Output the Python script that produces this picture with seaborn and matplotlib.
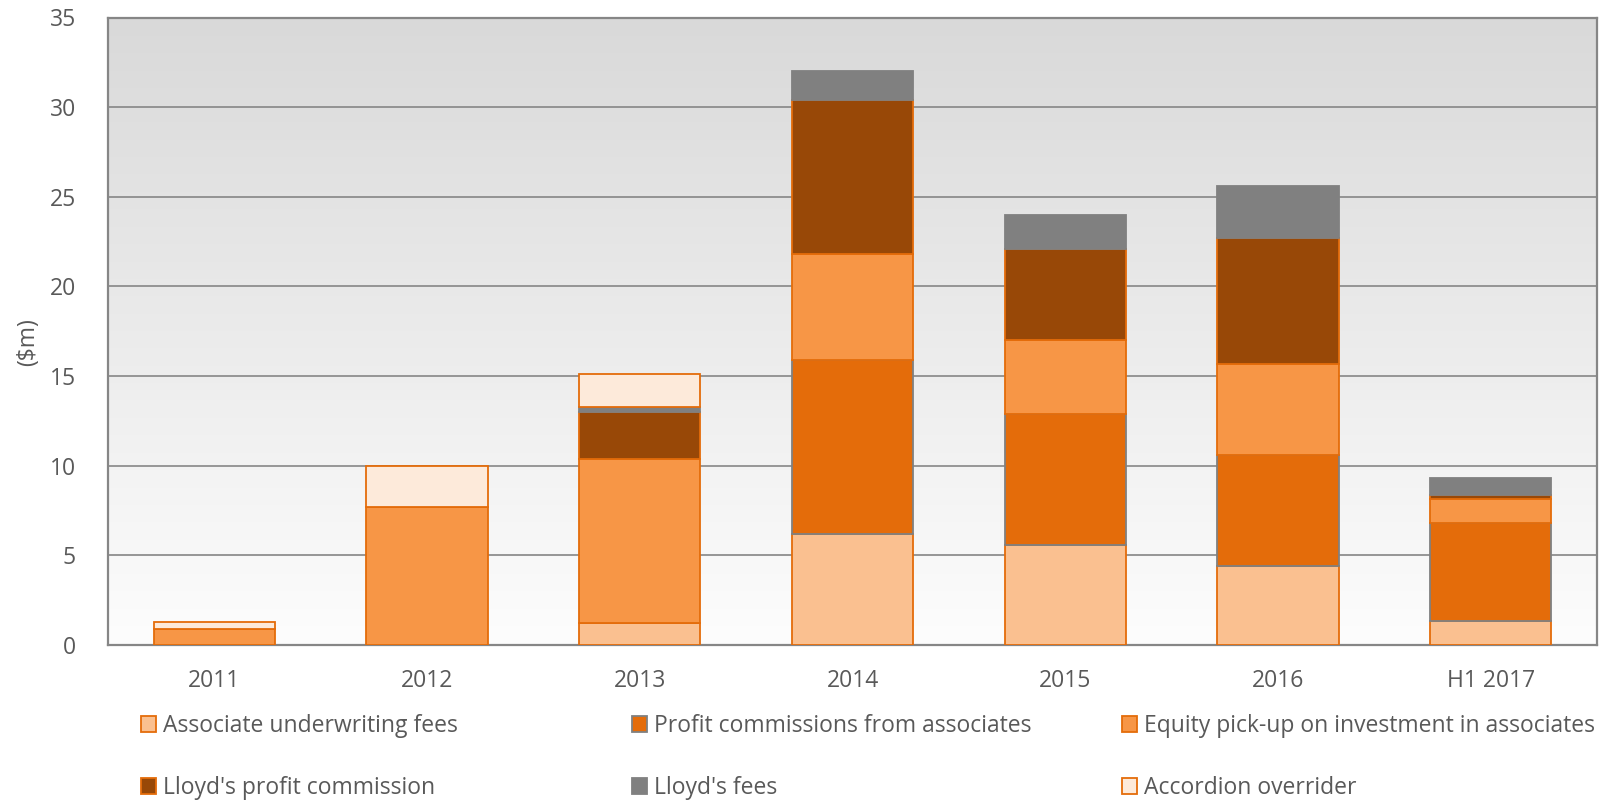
import numpy as np
import pandas as pd
import matplotlib
matplotlib.use("Agg")
import matplotlib.pyplot as plt
import seaborn as sns
from matplotlib.patches import Patch
from matplotlib.colors import LinearSegmentedColormap

categories = ["2011", "2012", "2013", "2014", "2015", "2016", "H1 2017"]
assoc_fees = [0, 0, 1.2, 6.2, 5.6, 4.4, 1.35]
profit_comm = [0, 0, 0, 9.7, 7.3, 6.2, 5.45]
equity_pickup = [0.9, 7.7, 9.2, 5.9, 4.1, 5.1, 1.35]
lloyds_pc = [0, 0, 2.6, 8.6, 5.1, 7.0, 0.2]
lloyds_fees = [0, 0, 0.25, 1.6, 1.9, 2.9, 0.95]
accordion = [0.4, 2.3, 1.85, 0, 0, 0, 0]

series_names = ["Associate underwriting fees", "Profit commissions from associates",
                "Equity pick-up on investment in associates", "Lloyd's profit commission",
                "Lloyd's fees", "Accordion overrider"]
series_vals = [assoc_fees, profit_comm, equity_pickup, lloyds_pc, lloyds_fees, accordion]
fills = ["#FAC090", "#E46C0A", "#F79646", "#984807", "#808080", "#FDEADA"]
edges = ["#E46C0A", "#808080", "#E46C0A", "#E46C0A", "#808080", "#E46C0A"]

sns.set_style("white")
plt.rcParams['font.family'] = ['Open Sans', 'DejaVu Sans']
txt = "#595959"
FS = 16.5

fig = plt.figure(figsize=(16.18, 8.02), dpi=100)
ax = fig.add_axes([108/1618, 1 - 645/802, (1597-108)/1618, (645-17.5)/802])

grad = np.linspace(0, 1, 256).reshape(-1, 1)
cmap = LinearSegmentedColormap.from_list("g", ["#D9D9D9", "#FDFDFD"])
ax.imshow(grad, extent=[0, 1, 0, 1], transform=ax.transAxes, aspect='auto',
          cmap=cmap, zorder=0, origin='upper')

bottom = np.zeros(len(categories))
for name, vals, fc, ec in zip(series_names, series_vals, fills, edges):
    df = pd.DataFrame({"cat": categories, "val": vals})
    sns.barplot(data=df, x="cat", y="val", ax=ax, color=fc, saturation=1,
                errorbar=None, width=0.57, bottom=bottom, edgecolor=ec,
                linewidth=1.3, zorder=3)
    bottom = bottom + np.array(vals)

for cont in ax.containers:
    for p in cont.patches:
        if p.get_height() == 0:
            p.set_linewidth(0)

ax.set_xlim(-0.5, 6.5)
ax.set_ylim(0, 35)
ax.set_yticks(range(0, 36, 5))
ax.grid(axis='y', color='#868686', linewidth=1.2)
ax.grid(axis='x', visible=False)
ax.set_axisbelow(True)
ax.patch.set_visible(False)
for s in ax.spines.values():
    s.set_color('#868686')
    s.set_linewidth(1.6)
    s.set_visible(True)
ax.tick_params(axis='y', length=0, pad=23, labelsize=FS, labelcolor=txt)
ax.tick_params(axis='x', length=0, pad=17, labelsize=FS, labelcolor=txt)
ax.set_xlabel("")
ax.set_ylabel("($m)", fontsize=FS, color=txt)
ax.yaxis.set_label_coords((40 - 108) / 1489, (645 - 342) / 627.5)

col_x = [141/1618, 632/1618, 1122/1618]
for c in range(3):
    idx = [c, c + 3]
    handles = [Patch(facecolor=fills[i], edgecolor=edges[i], linewidth=1.3) for i in idx]
    leg = fig.legend(handles, [series_names[i] for i in idx], loc='center left',
                     bbox_to_anchor=(col_x[c], 1 - 757/802), frameon=False, fontsize=FS,
                     handlelength=0.65, handleheight=0.75, handletextpad=0.3,
                     labelspacing=1.65, borderpad=0, borderaxespad=0)
    for t in leg.get_texts():
        t.set_color(txt)

fig.savefig("out.png", dpi=100)
